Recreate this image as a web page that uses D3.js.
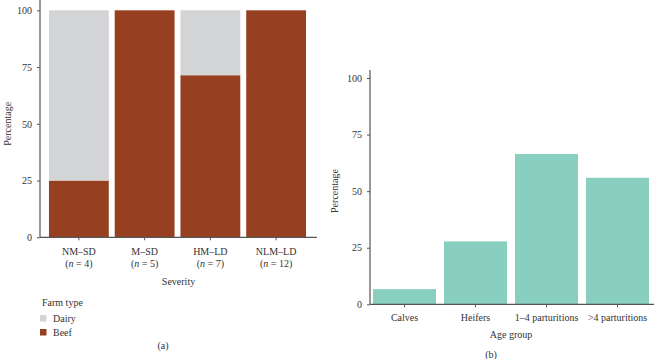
<!DOCTYPE html>
<html><head><meta charset="utf-8">
<script src="https://cdn.jsdelivr.net/npm/d3@7"></script>
<style>
body{margin:0;background:#fff;}
svg{display:block;font-family:"Liberation Serif","Times New Roman",serif;}
text{fill:#333;}
</style></head>
<body>
<svg id="c" width="654" height="359"></svg>
<script>
// Panel (a)
const severityCats = ["NM–SD","M–SD","HM–LD","NLM–LD"];
const severityN = ["4","5","7","12"];
const beefPct = [25, 100, 71.4, 100];
const dairyPct = [75, 0, 28.6, 0];
const farmTypes = ["Dairy","Beef"];
const farmColors = ["#d3d4d6","#974021"];
// Panel (b)
const ageCats = ["Calves","Heifers","1–4 parturitions",">4 parturitions"];
const agePct = [6.7, 27.8, 66.4, 55.9];
const yTicks = [0,25,50,75,100];

const svg = d3.select("#c");
const fs = "10px";
const axisCol = "#555";

function styleAxis(g){
  g.attr("font-family", null).attr("font-size", null);
  g.selectAll("path").attr("stroke", axisCol).attr("stroke-width",1.2);
  g.selectAll("line").attr("stroke", axisCol).attr("stroke-width",1);
  g.selectAll("text").style("font-size",fs).attr("fill","#333");
}

// ---------- Panel a ----------
const xa = d3.scaleBand().domain(severityCats).range([46,309]).paddingInner(0.09).paddingOuter(0.045);
const ya = d3.scaleLinear().domain([0,100]).range([237.3,10.3]);

const stackData = severityCats.map((c,i)=>({cat:c, Beef:beefPct[i], Dairy:dairyPct[i]}));
const stack = d3.stack().keys(["Beef","Dairy"])(stackData);
const colorA = d3.scaleOrdinal().domain(farmTypes).range(farmColors);

svg.append("g").selectAll("g").data(stack).join("g")
  .attr("fill", d=>colorA(d.key))
  .selectAll("rect").data(d=>d).join("rect")
  .attr("x", d=>xa(d.data.cat))
  .attr("width", xa.bandwidth())
  .attr("y", d=>ya(d[1]))
  .attr("height", d=>ya(d[0])-ya(d[1]));

// y axis a
const gya = svg.append("g").attr("transform","translate(40,0)")
  .call(d3.axisLeft(ya).tickValues(yTicks).tickSize(3).tickPadding(5).tickSizeOuter(0));
gya.select("path").attr("d","M0,0V237.3");
styleAxis(gya);

// x axis a
const gxa = svg.append("g").attr("transform","translate(0,237.3)")
  .call(d3.axisBottom(xa).tickSize(3).tickFormat("").tickSizeOuter(0));
gxa.select("path").attr("d","M40,0H317");
styleAxis(gxa);

const labA = svg.append("g").selectAll("text").data(severityCats).join("text")
  .attr("text-anchor","middle").style("font-size",fs)
  .attr("x", d=>xa(d)+xa.bandwidth()/2).attr("y",254.5);
labA.append("tspan").text(d=>d);
labA.append("tspan").attr("x", d=>xa(d)+xa.bandwidth()/2).attr("dy",12.6)
  .text("(").append("tspan").style("font-style","italic").text("n");
labA.each(function(d,i){
  d3.select(this).append("tspan").text(" = "+severityN[i]+")");
});

svg.append("text").attr("x",(40+317)/2).attr("y",284.5).attr("text-anchor","middle")
  .style("font-size",fs).text("Severity");
svg.append("text").attr("transform","translate(11,123.8) rotate(-90)").attr("text-anchor","middle")
  .style("font-size",fs).text("Percentage");

// legend
svg.append("text").attr("x",42).attr("y",305.5).style("font-size",fs).text("Farm type");
const lg = svg.append("g").selectAll("g").data(farmTypes).join("g")
  .attr("transform",(d,i)=>`translate(40,${315+i*14})`);
lg.append("rect").attr("width",6.5).attr("height",6.5).attr("fill",d=>colorA(d));
lg.append("text").attr("x",13).attr("y",7).style("font-size",fs).text(d=>d);

svg.append("text").attr("x",163).attr("y",348.5).attr("text-anchor","middle").style("font-size",fs).text("(a)");

// ---------- Panel b ----------
const xb = d3.scaleBand().domain(ageCats).range([369,653]).paddingInner(0.113).paddingOuter(0.0565);
const yb = d3.scaleLinear().domain([0,100]).range([304.3,78]);

svg.append("g").selectAll("rect").data(ageCats).join("rect")
  .attr("x", d=>xb(d)).attr("width", xb.bandwidth())
  .attr("y",(d,i)=>yb(agePct[i])).attr("height",(d,i)=>yb(0)-yb(agePct[i]))
  .attr("fill","#89cfbf");

const gyb = svg.append("g").attr("transform","translate(370,0)")
  .call(d3.axisLeft(yb).tickValues(yTicks).tickSize(3).tickPadding(5).tickSizeOuter(0));
gyb.select("path").attr("d","M0,70V304.3");
styleAxis(gyb);

const gxb = svg.append("g").attr("transform","translate(0,304.3)")
  .call(d3.axisBottom(xb).tickSize(3).tickPadding(7).tickSizeOuter(0));
gxb.select("path").attr("d","M370,0H654");
styleAxis(gxb);

svg.append("text").attr("x",511).attr("y",337.5).attr("text-anchor","middle")
  .style("font-size",fs).text("Age group");
svg.append("text").attr("transform","translate(338,191) rotate(-90)").attr("text-anchor","middle")
  .style("font-size",fs).text("Percentage");
svg.append("text").attr("x",491).attr("y",357.5).attr("text-anchor","middle").style("font-size",fs).text("(b)");
</script>
</body></html>
